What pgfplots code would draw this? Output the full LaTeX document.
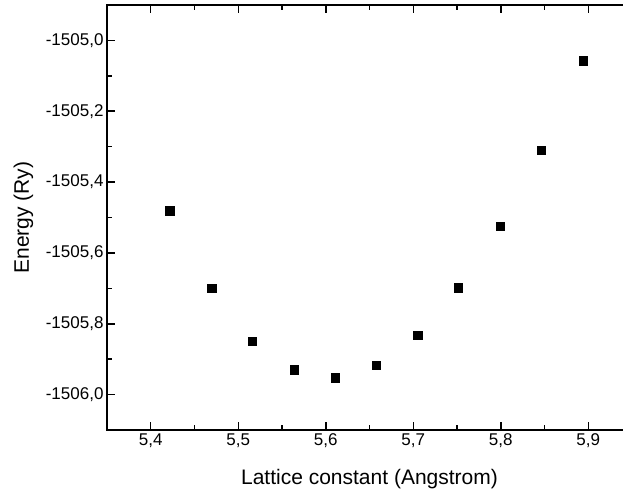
\documentclass[border=0pt]{standalone}
\usepackage{fontspec}
\setmainfont{Liberation Sans}
\usepackage{pgfplots}
\pgfplotsset{compat=1.18}
\begin{document}
\begin{tikzpicture}
\begin{axis}[
  scale only axis,
  width=525pt, height=425pt,
  xmin=5.35, xmax=5.95,
  ymin=-1506.1, ymax=-1504.9,
  xtick={5.4,5.5,5.6,5.7,5.8,5.9},
  ytick={-1506.0,-1505.8,-1505.6,-1505.4,-1505.2,-1505.0},
  xticklabels={5{,}4,5{,}5,5{,}6,5{,}7,5{,}8,5{,}9},
  yticklabels={-1506{,}0,-1505{,}8,-1505{,}6,-1505{,}4,-1505{,}2,-1505{,}0},
  minor x tick num=1, minor y tick num=1,
  tick align=inside,
  major tick length=8pt, minor tick length=5pt,
  axis line style={line width=1.5pt},
  every tick/.style={line width=1.5pt, black},
  tick label style={font=\fontsize{17}{20}\selectfont},
  xlabel={Lattice constant (Angstrom)},
  ylabel={Energy (Ry)},
  label style={font=\fontsize{21}{24}\selectfont},
  xlabel style={at={(axis description cs:0.5,-0.1294)}, anchor=base},
  ylabel style={at={(axis description cs:-0.1486,0.5)}, anchor=base},
  clip=false,
]
\addplot[only marks, mark=square*, mark size=4.2pt, mark options={fill=black, draw=black, line width=0.6pt}] coordinates {
(5.4217,-1505.481)
(5.4697,-1505.700)
(5.5162,-1505.849)
(5.5638,-1505.930)
(5.6106,-1505.953)
(5.6575,-1505.917)
(5.7051,-1505.833)
(5.7517,-1505.698)
(5.7997,-1505.524)
(5.8465,-1505.311)
(5.8945,-1505.058)
};
\end{axis}
\pgfresetboundingbox
\useasboundingbox (-107pt,-63pt) rectangle (516pt,430pt);
\end{tikzpicture}
\end{document}
